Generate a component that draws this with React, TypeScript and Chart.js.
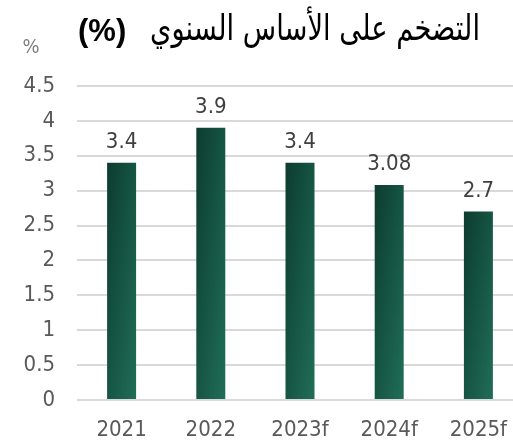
import React, { useEffect, useRef } from "react";
import { Chart, registerables } from "chart.js";

Chart.register(...registerables);

const categories = ["2021", "2022", "2023f", "2024f", "2025f"];
const inflation = [3.4, 3.9, 3.4, 3.08, 2.7];
const valueLabels = ["3.4", "3.9", "3.4", "3.08", "2.7"];
const titleArabic = "التضخم على الأساس السنوي";
const titleUnit = "(%)";
const unitText = "%";

const TICK_FONT = "'DejaVu Sans Condensed', 'Liberation Sans', sans-serif";
const BAR_PCT = 0.325;

function barGradient(c: any) {
  const chart = c.chart;
  const xs = chart.scales?.x;
  const ys = chart.scales?.y;
  if (!xs || !ys || c.dataIndex === undefined) return "#165542";
  const cx = xs.getPixelForValue(c.dataIndex);
  const w = (xs.width / categories.length) * BAR_PCT;
  const top = ys.getPixelForValue(inflation[c.dataIndex]);
  const h = ys.getPixelForValue(0) - top;
  if (![cx, w, top, h].every((v) => Number.isFinite(v)) || w < 1 || h < 1) return "#165542";
  const x0 = cx - w / 2;
  const t = 2 / (1 / (w * w) + 1 / (h * h));
  const x1 = x0 + t / w;
  const y1 = top + t / h;
  if (!Number.isFinite(x1) || !Number.isFinite(y1)) return "#165542";
  const g = chart.ctx.createLinearGradient(x0, top, x1, y1);
  g.addColorStop(0, "#0c3c2f");
  g.addColorStop(1, "#206e57");
  return g;
}

const overlayPlugin = {
  id: "overlay",
  afterDatasetsDraw(chart: any) {
    const ctx = chart.ctx;
    const meta = chart.getDatasetMeta(0);
    ctx.save();
    ctx.fillStyle = "#404040";
    ctx.font = `22px ${TICK_FONT}`;
    ctx.textAlign = "center";
    ctx.textBaseline = "alphabetic";
    meta.data.forEach((el: any, i: number) => {
      ctx.fillText(valueLabels[i], el.x, el.y - 15);
    });
    ctx.restore();
  },
  afterDraw(chart: any) {
    const ctx = chart.ctx;
    // Arabic part of title, compressed horizontally to the reference width
    ctx.save();
    ctx.fillStyle = "#000000";
    (ctx as any).direction = "rtl";
    ctx.font = "35px 'DejaVu Sans', sans-serif";
    const w = ctx.measureText(titleArabic).width || 330;
    const sx = Math.min(1, 330 / w);
    ctx.translate(480, 40);
    ctx.scale(sx, 1);
    ctx.textAlign = "right";
    ctx.textBaseline = "alphabetic";
    ctx.fillText(titleArabic, 0, 0);
    ctx.restore();
    // (%) part of title
    ctx.save();
    ctx.fillStyle = "#000000";
    ctx.font = "bold 31px 'Liberation Sans', sans-serif";
    ctx.textAlign = "left";
    ctx.textBaseline = "alphabetic";
    ctx.fillText(titleUnit, 78, 41);
    ctx.restore();
    // unit label
    ctx.save();
    ctx.fillStyle = "#7f7f7f";
    ctx.font = `20px ${TICK_FONT}`;
    ctx.textAlign = "center";
    ctx.textBaseline = "alphabetic";
    ctx.fillText(unitText, 31, 53);
    ctx.restore();
  },
};

export default function App() {
  const ref = useRef<HTMLCanvasElement | null>(null);
  useEffect(() => {
    document.body.style.margin = "0";
    document.body.style.overflow = "hidden";
    const canvas = ref.current!;
    const chart = new Chart(canvas, {
      type: "bar",
      data: {
        labels: categories,
        datasets: [
          {
            data: inflation,
            backgroundColor: barGradient,
            borderWidth: 0,
            barPercentage: BAR_PCT,
            categoryPercentage: 1,
          },
        ],
      },
      options: {
        responsive: false,
        animation: false,
        layout: { padding: { top: 86, right: 2, left: 0, bottom: 0 } },
        plugins: {
          legend: { display: false },
          title: { display: false },
          tooltip: { enabled: false },
        },
        scales: {
          x: {
            grid: { display: false, drawTicks: false },
            border: { display: false },
            ticks: {
              color: "#595959",
              font: { family: TICK_FONT, size: 22 },
              padding: 17,
              maxRotation: 0,
            },
            afterFit: (s: any) => {
              s.height = 47;
            },
          },
          y: {
            min: 0,
            max: 4.5,
            grid: { color: "#d9d9d9", lineWidth: 2, drawTicks: false },
            border: { display: false },
            ticks: {
              stepSize: 0.5,
              color: "#595959",
              font: { family: TICK_FONT, size: 22 },
              padding: 22,
              callback: (v: any) => String(v),
            },
            afterFit: (s: any) => {
              s.width = 77;
            },
          },
        },
      },
      plugins: [overlayPlugin],
    });
    chart.update();
    return () => chart.destroy();
  }, []);
  return (
    <div style={{ position: "absolute", left: 0, top: 0, width: 525, height: 447 }}>
      <canvas ref={ref} width={525} height={447} style={{ display: "block" }} />
    </div>
  );
}
